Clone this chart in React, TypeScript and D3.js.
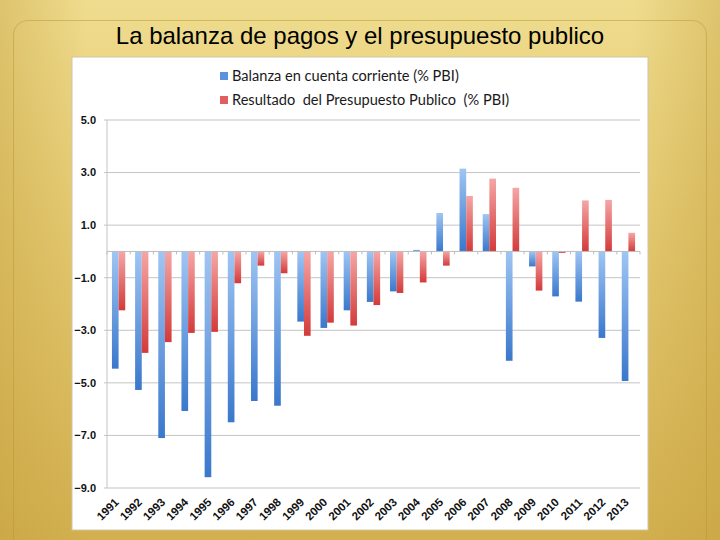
import React from "react";
import * as d3 from "d3";

const years = ["1991","1992","1993","1994","1995","1996","1997","1998","1999","2000","2001","2002","2003","2004","2005","2006","2007","2008","2009","2010","2011","2012","2013"];
const cuentaCorriente = [-4.46,-5.27,-7.1,-6.07,-8.59,-6.5,-5.69,-5.87,-2.67,-2.91,-2.24,-1.92,-1.52,0.06,1.46,3.15,1.42,-4.16,-0.57,-1.71,-1.91,-3.29,-4.93];
const presupuesto = [-2.24,-3.86,-3.45,-3.1,-3.06,-1.21,-0.54,-0.83,-3.21,-2.71,-2.82,-2.04,-1.58,-1.18,-0.54,2.11,2.77,2.42,-1.49,-0.06,1.94,1.96,0.71];
const seriesNames = ["Balanza en cuenta corriente (% PBI)", "Resultado  del Presupuesto Publico  (% PBI)"];
const yTicks = [5, 3, 1, -1, -3, -5, -7, -9];
const title = "La balanza de pagos y el presupuesto publico";

const W = 720, H = 540;
const plotL = 107, plotR = 640, plotT = 120, plotB = 488;

export default function App() {
  const x = d3.scaleBand<string>().domain(years).range([plotL, plotR]).padding(0);
  const bw = x.bandwidth();
  const x1 = d3.scaleBand<string>().domain(["a", "b"]).range([bw * 0.213, bw * 0.787]).padding(0);
  const y = d3.scaleLinear().domain([-9, 5]).range([plotB, plotT]);
  const series = [
    { key: "a", vals: cuentaCorriente, grad: "gBlue", sw: "#5b93dc" },
    { key: "b", vals: presupuesto, grad: "gRed", sw: "#e06060" },
  ];
  const fmt = d3.format(".1f");
  return (
    <div style={{ position: "fixed", left: 0, top: 0, width: W, height: H }}>
      <svg width={W} height={H} style={{ display: "block" }}>
        <defs>
          <linearGradient id="bg" x1="0" y1="0" x2="0" y2="1">
            <stop offset="0" stopColor="#efdc8e" />
            <stop offset="0.45" stopColor="#e3c86f" />
            <stop offset="1" stopColor="#d2af4f" />
          </linearGradient>
          <linearGradient id="bgEdge" x1="0" y1="0" x2="1" y2="0">
            <stop offset="0" stopColor="#c49f3c" stopOpacity="0.4" />
            <stop offset="0.12" stopColor="#c49f3c" stopOpacity="0" />
            <stop offset="0.88" stopColor="#c49f3c" stopOpacity="0" />
            <stop offset="1" stopColor="#c49f3c" stopOpacity="0.4" />
          </linearGradient>
          <linearGradient id="gBlue" x1="0" y1="0" x2="0" y2="1">
            <stop offset="0" stopColor="#9fc5f3" />
            <stop offset="1" stopColor="#3a78cc" />
          </linearGradient>
          <linearGradient id="gRed" x1="0" y1="0" x2="0" y2="1">
            <stop offset="0" stopColor="#f5a6a6" />
            <stop offset="1" stopColor="#d43a3a" />
          </linearGradient>
        </defs>
        <rect x={0} y={0} width={W} height={H} fill="url(#bg)" />
        <rect x={0} y={0} width={W} height={H} fill="url(#bgEdge)" />
        <rect x={13.5} y={20.5} width={693} height={540} rx={14} fill="none" stroke="#b8963a" strokeOpacity={0.5} />
        <text x={360} y={44} textAnchor="middle" fontFamily="Liberation Sans, Arial, sans-serif" fontSize={24} fill="#000">{title}</text>
        <rect x={72} y={57} width={576} height={473} fill="#ffffff" stroke="#cfc6a8" strokeWidth={1} />
        {/* legend */}
        {seriesNames.map((s, i) => (
          <g key={s} transform={`translate(220, ${76 + i * 24})`}>
            <rect x={0} y={-4} width={8} height={8} fill={series[i].sw} />
            <text x={12} y={0} dy="0.35em" fontFamily="Lato, sans-serif" fontSize={14.6} fill="#1a1a1a" style={{ whiteSpace: "pre" }}>{s}</text>
          </g>
        ))}
        {/* gridlines */}
        {yTicks.map((t) => (
          <g key={t}>
            <line x1={plotL - 3} x2={plotR} y1={y(t)} y2={y(t)} stroke="#c4c4c4" strokeWidth={1} />
            <text x={96} y={y(t)} dy="0.35em" textAnchor="end" fontFamily="Liberation Sans, Arial, sans-serif" fontWeight="bold" fontSize={11} fill="#111">{fmt(t)}</text>
          </g>
        ))}
        <line x1={plotL} x2={plotL} y1={plotT} y2={plotB} stroke="#c4c4c4" strokeWidth={1} />
        {/* bars */}
        {series.map((s) =>
          years.map((yr, i) => {
            const v = s.vals[i];
            const y0 = y(0), yv = y(v);
            return (
              <rect key={s.key + yr} x={(x(yr) as number) + (x1(s.key) as number)} width={x1.bandwidth()}
                y={Math.min(y0, yv)} height={Math.abs(yv - y0)} fill={`url(#${s.grad})`} />
            );
          })
        )}
        {/* zero axis */}
        <line x1={plotL} x2={plotR} y1={y(0)} y2={y(0)} stroke="#bdbdbd" strokeWidth={1} />
        {years.map((yr) => (
          <line key={"t" + yr} x1={(x(yr) as number)} x2={(x(yr) as number)} y1={y(0)} y2={y(0) + 3} stroke="#bdbdbd" />
        ))}
        <line x1={plotR} x2={plotR} y1={y(0)} y2={y(0) + 3} stroke="#bdbdbd" />
        {/* x labels */}
        {years.map((yr) => {
          const cx = (x(yr) as number) + bw / 2 + 1;
          const cy = plotB + 15;
          return (
            <text key={"l" + yr} transform={`translate(${cx},${cy}) rotate(-45)`} textAnchor="end"
              fontFamily="Liberation Sans, Arial, sans-serif" fontWeight="bold" fontSize={11.5} fill="#111">{yr}</text>
          );
        })}
      </svg>
    </div>
  );
}
